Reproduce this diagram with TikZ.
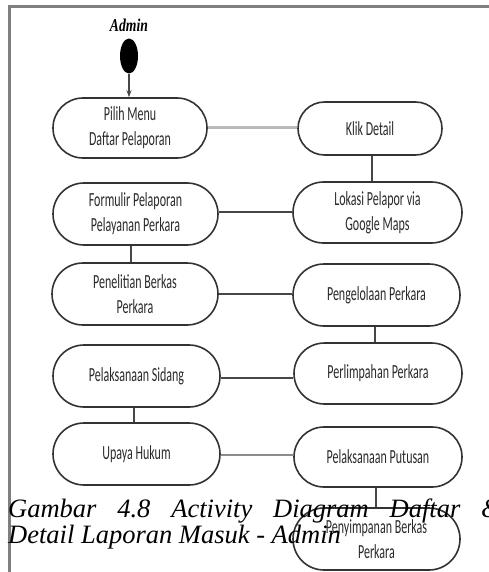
\documentclass[tikz,border=0pt]{standalone}
\usepackage{fontspec}
\setmainfont{Liberation Serif}
\newfontfamily\boxfont[FakeStretch=0.6]{Carlito}
\newfontfamily\adminfont[FakeStretch=0.76]{Liberation Serif}
\usetikzlibrary{shapes.misc,shapes.geometric,arrows.meta}
\definecolor{framegray}{HTML}{7F7F7F}
\definecolor{outline}{HTML}{333333}
\definecolor{txt}{HTML}{2A2A2A}
\tikzset{
  act/.style={rounded rectangle, draw=outline, line width=1.6pt, fill=white,
    inner sep=0pt, text=txt, align=center,
    font={\boxfont\fontsize{20}{25}\selectfont}},
  conn/.style={draw=outline!90, line width=1.3pt},
  lightconn/.style={draw=black!27, line width=3pt},
  midconn/.style={draw=black!45, line width=1.2pt},
}
\begin{document}
\begin{tikzpicture}[x=1pt,y=-1pt]
\useasboundingbox (0,0) rectangle (489,572);
% frame
\draw[framegray, line width=3pt] (8,6.5) -- (489,6.5);
\draw[framegray, line width=2.5pt] (9.5,5) -- (9.5,572);
% swimlane title
\node[anchor=base, font={\adminfont\bfseries\itshape\fontsize{18}{20}\selectfont}] (admin) at (129,32) {Admin};
% start
\node[ellipse, fill=black, minimum width=18pt, minimum height=35pt, inner sep=0pt] (start) at (129,56) {};
% activities
\node[act, minimum width=154pt, minimum height=60pt] (pilih) at (130,128) {Pilih Menu\\Daftar Pelaporan};
\node[act, minimum width=144pt, minimum height=53pt] (klik) at (370,128.5) {Klik Detail};
\node[act, minimum width=165pt, minimum height=62pt] (form) at (135.5,214) {Formulir Pelaporan\\Pelayanan Perkara};
\node[act, minimum width=169pt, minimum height=61pt] (lokasi) at (377.5,212.5) {Lokasi Pelapor via\\Google Maps};
\node[act, minimum width=166pt, minimum height=62pt] (teliti) at (135,294) {Penelitian Berkas\\Perkara};
\node[act, minimum width=167pt, minimum height=62pt] (kelola) at (376.5,295) {Pengelolaan Perkara};
\node[act, minimum width=167pt, minimum height=62pt] (sidang) at (136.5,376) {Pelaksanaan Sidang};
\node[act, minimum width=168pt, minimum height=61pt] (limpah) at (378,373.5) {Perlimpahan Perkara};
\node[act, minimum width=167pt, minimum height=62pt] (upaya) at (136.5,454) {Upaya Hukum};
\node[act, minimum width=168pt, minimum height=60pt] (putusan) at (378,457) {Pelaksanaan Putusan};
\node[act, minimum width=167pt, minimum height=62pt] (simpan) at (376.5,539) {Penyimpanan Berkas\\Perkara};
% connectors
\draw[conn, -{Stealth[length=7pt,width=5pt]}] (start) -- (start |- pilih.north);
\draw[lightconn] (pilih.east) -- (pilih.east -| klik.west);
\draw[conn] (klik.south -| 372,0) -- (lokasi.north -| 372,0);
\draw[conn] (form.east |- 0,212) -- (lokasi.west |- 0,212);
\draw[conn] (form.south -| 131,0) -- (teliti.north -| 131,0);
\draw[conn] (teliti.east) -- (teliti.east -| kelola.west);
\draw[conn] (kelola.south -| 375,0) -- (limpah.north -| 375,0);
\draw[conn] (sidang.east |- 0,378) -- (limpah.west |- 0,378);
\draw[conn] (sidang.south -| 134,0) -- (upaya.north -| 134,0);
\draw[midconn] (upaya.east |- 0,455) -- (putusan.west |- 0,455);
\draw[conn] (putusan.south -| 376,0) -- (simpan.north -| 376,0);
% caption
\node[anchor=base west, inner sep=0pt, font={\itshape\fontsize{26.5}{27}\selectfont}] (cap1) at (8,517)
  {\hbox to 493.6pt{Gambar\hfill 4.8\hfill Activity\hfill Diagram\hfill Daftar\hfill \&}};
\node[anchor=base west, inner sep=0pt, font={\itshape\fontsize{26.5}{27}\selectfont}] (cap2) at (8,543)
  {Detail Laporan Masuk - Admin};
\end{tikzpicture}
\end{document}
